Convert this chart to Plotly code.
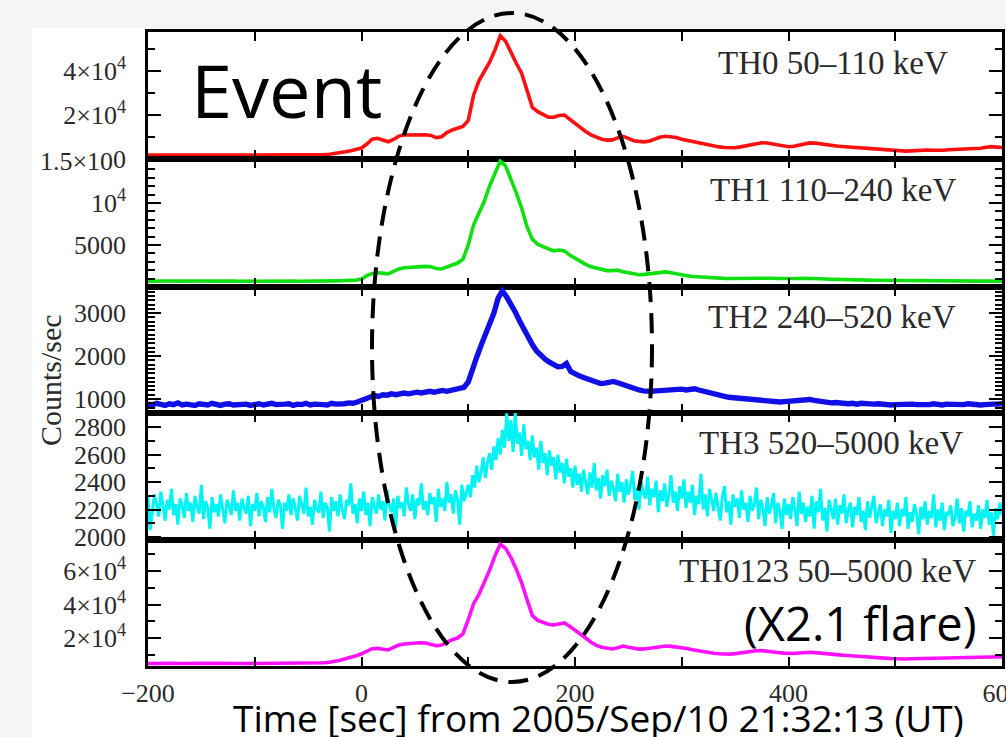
import plotly.graph_objects as go

# ---------------- data ----------------
t5 = list(range(-200, 601, 5))   # sample times for TH0, TH1, TH0123
t4 = list(range(-200, 601, 4))   # sample times for TH2
t2 = list(range(-200, 601, 2))   # sample times for TH3

th0 = [
    1800, 1750, 1850, 1800, 1780, 1820, 1800, 1760, 1840, 1800,
    1790, 1810, 1850, 1800, 1770, 1820, 1800, 1840, 1790, 1810,
    1800, 1830, 1780, 1820, 1850, 1800, 1790, 1830, 1860, 1820,
    1850, 1900, 1950, 2000, 2150, 2400, 2800, 3300, 3800, 4400,
    5000, 6800, 9000, 9400, 8400, 7800, 8900, 10400, 10900, 11000,
    10900, 11100, 11000, 10700, 9700, 10100, 12000, 13200, 14000, 14800,
    17500, 29000, 35500, 39500, 44000, 49500, 56000, 53500, 48000, 43500,
    39000, 31000, 23500, 21500, 20200, 19000, 19000, 19800, 20000, 18000,
    16000, 14000, 12500, 11000, 9800, 9000, 8600, 8700, 9600, 10300,
    9400, 8300, 8000, 7800, 8200, 9000, 10000, 10300, 10100, 9800,
    9000, 8500, 7900, 7200, 6700, 6200, 5800, 5500, 5200, 5000,
    5100, 5500, 6000, 6600, 7100, 7400, 7300, 6900, 6400, 5900,
    5600, 5800, 6300, 6900, 7300, 7200, 6800, 6400, 6100, 5900,
    5700, 5500, 5300, 5200, 5000, 4900, 4700, 4500, 4300, 4000,
    3800, 3600, 3600, 3700, 3900, 4100, 4100, 4000, 3900, 4000,
    4200, 4300, 4400, 4500, 4500, 4600, 4900, 5300, 5600, 5400,
    5200,
]

th1 = [
    700, 680, 720, 700, 690, 710, 700, 680, 720, 700,
    690, 710, 700, 720, 680, 700, 710, 690, 700, 720,
    700, 690, 710, 700, 680, 700, 720, 700, 690, 710,
    700, 720, 700, 710, 720, 730, 740, 760, 780, 820,
    950, 1350, 1600, 1700, 1650, 1550, 1850, 2150, 2300, 2350,
    2400, 2400, 2450, 2400, 2200, 2150, 2400, 2600, 2850, 3300,
    5000, 7400, 8800, 10200, 12000, 13600, 15000, 14400, 12900, 11200,
    9400, 7200, 5700, 5100, 4800, 4500, 4300, 4400, 4300, 3800,
    3400, 3000, 2700, 2400, 2250, 2100, 1950, 1950, 2000, 1800,
    1650, 1500, 1450, 1500, 1600, 1700, 1800, 1800, 1700, 1550,
    1450, 1350, 1250, 1200, 1150, 1100, 1080, 1050, 1030, 1020,
    1030, 1050, 1070, 1090, 1100, 1100, 1080, 1050, 1020, 1000,
    990, 1000, 1020, 1040, 1040, 1020, 990, 960, 930, 900,
    880, 860, 850, 840, 830, 820, 810, 800, 790, 780,
    770, 760, 760, 750, 750, 740, 740, 730, 730, 730,
    720, 720, 720, 710, 710, 710, 700, 710, 720, 710,
    700,
]

th2 = [
    880, 860, 900, 870, 850, 890, 870, 910, 860, 880,
    870, 850, 890, 880, 860, 900, 870, 850, 880, 890,
    860, 870, 900, 880, 850, 870, 890, 860, 880, 900,
    870, 860, 880, 890, 850, 880, 870, 900, 860, 880,
    890, 870, 860, 900, 880, 870, 890, 910, 900, 930,
    960, 1010, 1050, 1080, 1060, 1100, 1090, 1120, 1100, 1130,
    1140, 1120, 1150, 1160, 1140, 1170, 1180, 1160, 1190, 1200,
    1180, 1210, 1220, 1240, 1270, 1400, 1720, 1980, 2250, 2480,
    2700, 3000, 3350, 3520, 3380, 3230, 3030, 2820, 2620, 2440,
    2270, 2120, 2010, 1930, 1860, 1790, 1750, 1760, 1830, 1640,
    1580, 1540, 1500, 1460, 1420, 1390, 1360, 1370, 1400, 1410,
    1380, 1340, 1300, 1270, 1240, 1210, 1190, 1170, 1180, 1190,
    1200, 1210, 1220, 1200, 1220, 1230, 1210, 1220, 1240, 1210,
    1180, 1150, 1120, 1100, 1080, 1060, 1040, 1030, 1010, 1000,
    990, 980, 970, 980, 960, 950, 940, 950, 930, 940,
    950, 960, 980, 990, 1000, 990, 970, 950, 940, 920,
    910, 920, 900, 910, 890, 900, 880, 900, 890, 870,
    880, 890, 870, 880, 860, 870, 880, 860, 870, 880,
    870, 860, 880, 870, 890, 870, 860, 880, 870, 860,
    880, 870, 890, 870, 880, 860, 870, 890, 880, 880,
    890,
]

th3 = [
    2290, 2050, 2180, 2310, 2240, 2150, 2330, 2210, 2120, 2270,
    2200, 2350, 2160, 2240, 2090, 2280, 2230, 2140, 2320, 2190,
    2250, 2110, 2300, 2220, 2170, 2380, 2130, 2260, 2210, 2060,
    2290, 2180, 2240, 2150, 2310, 2200, 2100, 2270, 2230, 2160,
    2340, 2190, 2250, 2120, 2280, 2210, 2170, 2300, 2080, 2240,
    2190, 2320, 2150, 2260, 2220, 2110, 2290, 2180, 2350, 2200,
    2140, 2270, 2230, 2060, 2250, 2190, 2310, 2160, 2280, 2210,
    2120, 2300, 2240, 2170, 2360, 2150, 2220, 2090, 2270, 2200,
    2180, 2330, 2140, 2250, 2210, 2040, 2290, 2190, 2260, 2150,
    2310, 2200, 2130, 2270, 2230, 2390, 2170, 2240, 2100, 2280,
    2190, 2330, 2160, 2250, 2080, 2290, 2220, 2170, 2310, 2200,
    2260, 2120, 2340, 2230, 2180, 2280, 2070, 2300, 2210, 2250,
    2150, 2360, 2240, 2190, 2310, 2130, 2280, 2230, 2390, 2200,
    2260, 2160, 2320, 2240, 2290, 2110, 2350, 2220, 2280, 2190,
    2400, 2250, 2310, 2170, 2340, 2270, 2090, 2380, 2260, 2320,
    2380, 2290, 2450, 2360, 2520, 2400, 2470, 2580, 2430, 2540,
    2610, 2490, 2660, 2560, 2720, 2600, 2780, 2650, 2900, 2700,
    2850, 2620, 2910, 2680, 2760, 2590, 2820, 2640, 2700, 2560,
    2740, 2580, 2650, 2490, 2700, 2540, 2610, 2450, 2630, 2520,
    2580, 2420, 2600, 2470, 2540, 2390, 2570, 2440, 2500, 2360,
    2520, 2380, 2460, 2330, 2490, 2400, 2310, 2470, 2360, 2540,
    2340, 2430, 2280, 2450, 2370, 2490, 2300, 2410, 2350, 2260,
    2460, 2330, 2400, 2250, 2420, 2310, 2380, 2480, 2270, 2360,
    2200, 2400, 2320, 2280, 2440, 2230, 2350, 2290, 2410, 2180,
    2340, 2260, 2390, 2220, 2310, 2450, 2250, 2330, 2190, 2370,
    2280, 2420, 2210, 2330, 2250, 2380, 2160, 2300, 2240, 2460,
    2200, 2310, 2150, 2350, 2270, 2190, 2320, 2230, 2120, 2290,
    2370, 2180, 2260, 2090, 2310, 2220, 2280, 2140, 2340, 2200,
    2250, 2110, 2300, 2190, 2240, 2360, 2130, 2270, 2210, 2080,
    2290, 2170, 2230, 2320, 2100, 2250, 2190, 2060, 2280, 2160,
    2240, 2130, 2290, 2200, 2080, 2330, 2170, 2250, 2110, 2220,
    2150, 2300, 2060, 2260, 2180, 2350, 2120, 2210, 2040, 2270,
    2190, 2130, 2280, 2090, 2230, 2170, 2310, 2100, 2200, 2250,
    2070, 2220, 2160, 2290, 2110, 2190, 2050, 2260, 2140, 2210,
    2300, 2100, 2180, 2240, 2080, 2200, 2150, 2270, 2030, 2190,
    2130, 2250, 2080, 2200, 2150, 2290, 2060, 2180, 2110, 2240,
    2170, 2020, 2220, 2130, 2260, 2090, 2190, 2140, 2310, 2070,
    2200, 2120, 2250, 2050, 2180, 2160, 2230, 2080, 2140, 2280,
    2100, 2210, 2040, 2190, 2150, 2260, 2070, 2170, 2120, 2230,
    2060, 2200, 2140, 2270, 2090, 2180, 2010, 2210, 2130, 2250,
    2160,
]

th0123 = [
    4800, 4700, 4900, 4800, 4750, 4850, 4800, 4700, 4900, 4800,
    4750, 4850, 4900, 4800, 4700, 4850, 4800, 4900, 4750, 4800,
    4800, 4850, 4750, 4900, 4800, 4850, 4800, 4900, 4950, 4850,
    4900, 5000, 5100, 5250, 5500, 6000, 6800, 7600, 8400, 9400,
    10600, 12000, 13600, 13800, 13100, 12900, 14400, 15800, 16400, 16800,
    17000, 17200, 17000, 16400, 15400, 15800, 17500, 19000, 20000, 22500,
    31000, 40500, 46000, 53000, 60500, 69000, 76000, 73500, 68000, 61000,
    53000, 43000, 33500, 30500, 29200, 28200, 27800, 28400, 29000, 27000,
    24800, 22300, 20000, 17500, 15600, 14500, 13800, 13500, 14200, 15200,
    14500, 13700, 13400, 13500, 14000, 14500, 15000, 15200, 15000, 14700,
    14300, 13700, 13000, 12400, 11800, 11300, 10900, 10600, 10400, 10400,
    10700, 11200, 11700, 12100, 12400, 12500, 12300, 11900, 11400, 11000,
    10700, 10800, 11100, 11400, 11500, 11300, 10900, 10500, 10200, 10000,
    9800, 9600, 9300, 9000, 8800, 8600, 8400, 8200, 8000, 7800,
    7600, 7500, 7500, 7600, 7700, 7800, 7800, 7700, 7700, 7800,
    7900, 8000, 8100, 8200, 8300, 8400, 8600, 8800, 9000, 8900,
    8800,
]

panel_names = ["TH0 50\u2013110 keV", "TH1 110\u2013240 keV", "TH2 240\u2013520 keV",
               "TH3 520\u20135000 keV", "TH0123 50\u20135000 keV"]

x_tickvals = [-200, 0, 200, 400, 600]
x_ticktext = ["\u2212200", "0", "200", "400", "600"]
x_minorvals = [-100, 100, 300, 500]

y_tickvals = [
    [0, 20000, 40000],
    [5000, 10000, 15000],
    [1000, 2000, 3000],
    [2000, 2200, 2400, 2600, 2800],
    [20000, 40000, 60000],
]
y_ticktext = [
    ["0", "2\u00d710<sup>4</sup>", "4\u00d710<sup>4</sup>"],
    ["5000", "10<sup>4</sup>", "1.5\u00d710\u2007"],
    ["1000", "2000", "3000"],
    ["2000", "2200", "2400", "2600", "2800"],
    ["2\u00d710<sup>4</sup>", "4\u00d710<sup>4</sup>", "6\u00d710<sup>4</sup>"],
]
y_minorvals = [
    [10000, 30000, 50000],
    list(range(1000, 15001, 1000)),
    list(range(700, 3601, 100)),
    list(range(2000, 2901, 100)),
    [10000, 30000, 50000, 70000],
]

# ---------------- layout geometry ----------------
W, H = 1006, 737
ML, MR, MT, MB = 148, 4, 32, 71
PW = W - ML - MR
PH = H - MT - MB


def px(xp):
    return (xp - ML) / PW


def py(yp):
    return (H - MB - yp) / PH


edges = [32, 159, 287, 413, 540, 666]
y_ranges = [[0, 57700], [0, 15230], [674, 3610], [1978, 2903], [3300, 78500]]

series = [
    (t5, th0, "#ff1010", 3.6),
    (t5, th1, "#10e010", 3.6),
    (t4, th2, "#1010e6", 5.4),
    (t2, th3, "#00f4f4", 3.0),
    (t5, th0123, "#ff10ff", 3.6),
]

fig = go.Figure()
tickfont = dict(family="Liberation Serif", size=26, color="#2a2a2a")

for i, (tx, ty, col, lw) in enumerate(series):
    n = i + 1
    xa = "x" if n == 1 else f"x{n}"
    ya = "y" if n == 1 else f"y{n}"
    fig.add_trace(go.Scatter(x=tx, y=ty, mode="lines", line=dict(color=col, width=lw),
                             xaxis=xa, yaxis=ya, hoverinfo="skip", showlegend=False))
    dom = [py(edges[i + 1]), py(edges[i])]
    fig.layout[f"xaxis{'' if n == 1 else n}"] = dict(
        domain=[0, 1], anchor=ya, range=[-200, 600],
        showline=True, linecolor="black", linewidth=2.5, mirror="ticks",
        ticks="inside", ticklen=9, tickwidth=2, tickcolor="black",
        tickmode="array", tickvals=x_tickvals, ticktext=x_ticktext,
        minor=dict(tickmode="array", tickvals=x_minorvals, ticks="inside",
                   ticklen=9, tickwidth=2, tickcolor="black"),
        showticklabels=(n == 5), tickfont=tickfont, ticklabelstandoff=2,
        ticklabeloverflow="allow", automargin=False,
        showgrid=False, zeroline=False, fixedrange=True,
    )
    fig.layout[f"yaxis{'' if n == 1 else n}"] = dict(
        domain=dom, anchor=xa, range=y_ranges[i],
        showline=True, linecolor="black", linewidth=2.5, mirror="ticks",
        ticks="inside", ticklen=13, tickwidth=2, tickcolor="black",
        tickmode="array", tickvals=y_tickvals[i], ticktext=y_ticktext[i],
        minor=dict(tickmode="array", tickvals=y_minorvals[i], ticks="inside",
                   ticklen=7, tickwidth=1.6, tickcolor="black"),
        tickfont=tickfont, ticklabelstandoff=14, automargin=False,
        showgrid=False, zeroline=False, fixedrange=True,
    )

annotations = []
# panel labels
label_pos = [(950, 63), (958, 190), (958, 317), (965, 443), (978, 571)]
for name, (xr, yc) in zip(panel_names, label_pos):
    annotations.append(dict(text=name, xref="paper", yref="paper", x=px(xr), y=py(yc),
                            xanchor="right", yanchor="middle", showarrow=False,
                            font=dict(family="Liberation Serif", size=33, color="#2a2a2a")))
# y title
annotations.append(dict(text="Counts/sec", xref="paper", yref="paper", x=px(51), y=py(380),
                        xanchor="center", yanchor="middle", textangle=-90, showarrow=False,
                        font=dict(family="Liberation Serif", size=30, color="#2a2a2a")))
# x title
annotations.append(dict(text="Time [sec] from 2005/Sep/10 21:32:13 (UT)", xref="paper", yref="paper",
                        x=px(598), y=py(717), xanchor="center", yanchor="middle", showarrow=False,
                        font=dict(family="Open Sans", size=37, color="black")))
# overlay texts
annotations.append(dict(text="Event", xref="paper", yref="paper", x=px(286), y=py(89),
                        xanchor="center", yanchor="middle", showarrow=False,
                        font=dict(family="Open Sans", size=74, color="black")))
annotations.append(dict(text="(X2.1 flare)", xref="paper", yref="paper", x=px(979), y=py(623),
                        xanchor="right", yanchor="middle", showarrow=False,
                        font=dict(family="Open Sans", size=47, color="black")))

shapes = [
    # light grey slide margins
    dict(type="rect", xref="paper", yref="paper", x0=px(-10), x1=px(32), y0=py(760), y1=py(-10),
         fillcolor="#f5f5f5", line=dict(width=0), layer="below"),
    dict(type="rect", xref="paper", yref="paper", x0=px(-10), x1=px(1020), y0=py(28), y1=py(-10),
         fillcolor="#f5f5f5", line=dict(width=0), layer="below"),
    # dashed ellipse
    dict(type="circle", xref="paper", yref="paper", x0=px(372), x1=px(652), y0=py(682), y1=py(13),
         line=dict(color="black", width=4, dash="20px,11px"), layer="above"),
]

fig.update_layout(
    width=W, height=H,
    margin=dict(l=ML, r=MR, t=MT, b=MB, autoexpand=False),
    paper_bgcolor="white", plot_bgcolor="white",
    annotations=annotations, shapes=shapes,
    showlegend=False,
)

fig.write_html(
    "out.html",
    config={"displayModeBar": False},
    post_script="document.body.style.margin='0px';document.body.style.overflow='hidden';"
                "document.documentElement.style.overflow='hidden';",
)
